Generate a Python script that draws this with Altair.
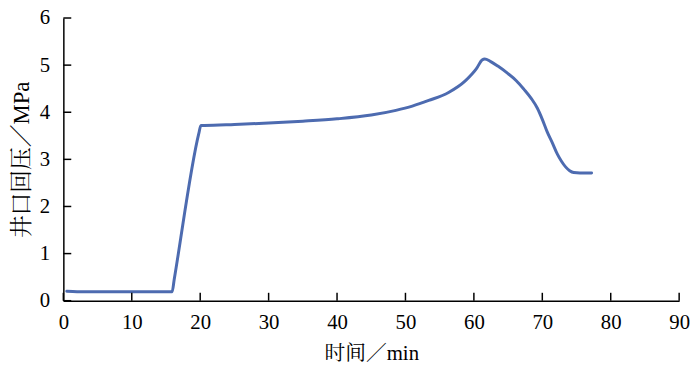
import altair as alt
import pandas as pd

time_min = [0.5, 2, 8, 15.6, 15.9, 16.2, 19.8, 20.1, 20.6, 25, 30, 35, 40, 45, 48.6, 51, 53.4, 56.3, 58.7, 60.4, 61.2, 61.6, 62.4, 63.5, 64.9, 66.2, 67.3, 68.4, 69.3, 70.0, 70.7, 71.5, 72.2, 72.8, 73.4, 74.0, 74.6, 75.5, 77.2]
pressure = [0.2, 0.19, 0.19, 0.19, 0.19, 0.45, 3.55, 3.72, 3.72, 3.74, 3.77, 3.81, 3.86, 3.94, 4.04, 4.13, 4.25, 4.42, 4.66, 4.93, 5.11, 5.13, 5.08, 4.98, 4.83, 4.67, 4.49, 4.29, 4.08, 3.85, 3.59, 3.34, 3.11, 2.96, 2.84, 2.76, 2.72, 2.71, 2.71]
x_ticks = [0, 10, 20, 30, 40, 50, 60, 70, 80, 90]
y_ticks = [0, 1, 2, 3, 4, 5, 6]

W, H = 623, 286
FONT = "Liberation Serif, Noto Serif CJK SC, Noto Sans CJK SC, serif"
COLOR = "#4d6bb0"

df = pd.DataFrame({"t": time_min, "p": pressure})
xt = pd.DataFrame({"t": x_ticks})
yt = pd.DataFrame({"p": y_ticks})

xscale = alt.Scale(domain=[0, 90], nice=False, zero=False)
yscale = alt.Scale(domain=[0, 6], nice=False)

axis_style = dict(
    tickSize=0, grid=False, domainColor="black", domainWidth=1.5,
    labelFont=FONT, labelFontSize=21, labelColor="black", labelFlush=False,
    titleFont=FONT, titleColor="black", titleFontWeight="normal",
)

line = alt.Chart(df).mark_line(color=COLOR, strokeWidth=3, strokeCap="round",
                               strokeJoin="round", interpolate="monotone").encode(
    x=alt.X("t:Q", scale=xscale,
            axis=alt.Axis(values=x_ticks, title="时间／min", labelPadding=11,
                          titlePadding=10, titleFontSize=21, **axis_style)),
    y=alt.Y("p:Q", scale=yscale,
            axis=alt.Axis(values=y_ticks, title="井口回压／MPa", labelPadding=14,
                          titlePadding=6, titleFontSize=23, **axis_style)),
)

xt_rules = alt.Chart(xt).mark_rule(color="black", strokeWidth=1.5).encode(
    x=alt.X("t:Q", scale=xscale),
    y=alt.value(H), y2=alt.value(H - 8),
)
yt_rules = alt.Chart(yt).mark_rule(color="black", strokeWidth=1.5).encode(
    y=alt.Y("p:Q", scale=yscale),
    x=alt.value(0), x2=alt.value(8),
)

chart = alt.layer(line, xt_rules, yt_rules).properties(
    width=W, height=H,
    autosize=alt.AutoSizeParams(type="none"),
    padding={"left": 56, "top": 8, "right": 13, "bottom": 70},
).configure_view(stroke=None)

chart.save("out.html", embed_options={"renderer": "svg", "actions": False})
